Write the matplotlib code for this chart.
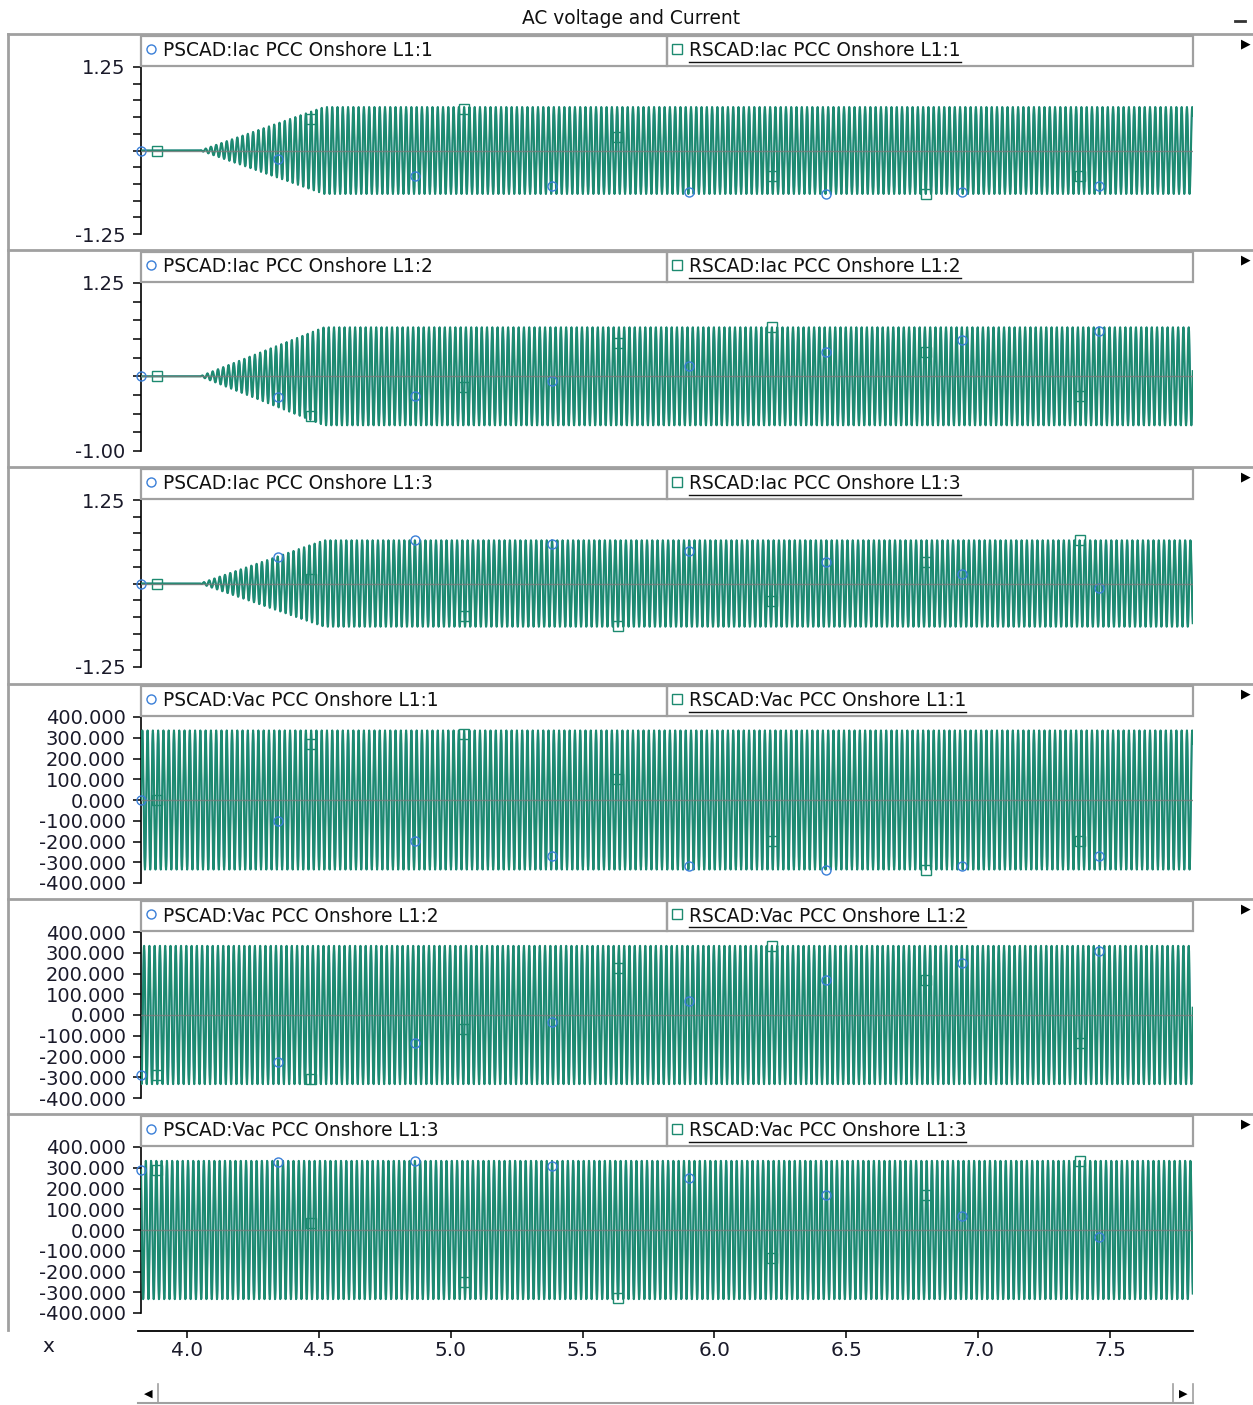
import matplotlib.pyplot as plt
import numpy as np

W, H = 1253, 1405
DPI = 100

# time axis (s) and sample step
t_start, t_end = 3.826, 7.814
dt = 0.001
freq = 50.0

# three-phase angles (deg) for L1:1, L1:2, L1:3
phase_deg = [0.0, -120.0, 120.0]

# current: peak (pu) per phase and the ramp-up window
iac_peak = [0.65, 0.66, 0.65]
ramp_start, ramp_end = 4.05, 4.52

# voltage: peak per phase
vac_peak = [335.0, 335.0, 335.0]

panel_names = ["Iac PCC Onshore L1:1", "Iac PCC Onshore L1:2", "Iac PCC Onshore L1:3",
               "Vac PCC Onshore L1:1", "Vac PCC Onshore L1:2", "Vac PCC Onshore L1:3"]
y_limits = [(-1.25, 1.25), (-1.00, 1.25), (-1.25, 1.25),
            (-400, 400), (-400, 400), (-400, 400)]
x_ticks = [4.0, 4.5, 5.0, 5.5, 6.0, 6.5, 7.0, 7.5]

GREEN = "#1d8a70"
BLUE = "#3a7fd8"
FRAME = "#a0a0a0"
TXT = "#1a1a2a"
FONT = "DejaVu Sans"
FS_TICK = 14.0
FS_LEG = 13.4


def box(x0, y0, x1, y1):
    """pixel box (top-left origin) -> figure fraction rect"""
    return [x0 / W, 1 - y1 / H, (x1 - x0) / W, (y1 - y0) / H]


def fx(x):
    return x / W


def fy(y):
    return 1 - y / H


fig = plt.figure(figsize=(W / DPI, H / DPI), dpi=DPI)
fig.patch.set_facecolor("white")

t = np.arange(t_start, t_end, dt)

panel_tops = [34, 250, 467, 684, 899, 1114]
axis_tops = [67, 283, 500, 717, 932, 1147]
axis_bots = [234, 451, 667, 883, 1098, 1313]
X0, X1 = 141, 1193

for i in range(6):
    ph = np.deg2rad(phase_deg[i % 3])
    wave = np.sin(2 * np.pi * freq * (t - t_start) + ph)
    if i < 3:
        env = np.clip((t - ramp_start) / (ramp_end - ramp_start), 0, 1)
        y = iac_peak[i] * env * wave
    else:
        y = vac_peak[i - 3] * wave

    ax = fig.add_axes(box(X0, axis_tops[i], X1, axis_bots[i]))
    ax.set_xlim(t_start, t_end)
    ax.set_ylim(*y_limits[i])
    ax.patch.set_alpha(0)
    ax.plot(t, y, color=BLUE, lw=1.0)
    ax.plot(t, y, color=GREEN, lw=1.5, zorder=3)
    ax.plot(t, y, color=GREEN, lw=0, marker="s", ms=7, mfc="none",
            mec=GREEN, mew=1.0, markevery=(60, 583), zorder=4, clip_on=False)
    ax.plot(t, y, color=BLUE, lw=0, marker="o", ms=6.5, mfc="none",
            mec=BLUE, mew=1.0, markevery=(0, 519), zorder=4, clip_on=False)
    ax.axhline(0, color="#7a7a7a", lw=1.0, alpha=0.8, zorder=5)

    for s in ["top", "right", "bottom"]:
        ax.spines[s].set_visible(False)
    ax.spines["left"].set_linewidth(1.2)
    ax.set_xticks([])
    lo, hi = y_limits[i]
    if i < 3:
        ax.yaxis.set_major_locator(plt.FixedLocator([lo, hi]))
        ax.yaxis.set_minor_locator(plt.MultipleLocator(0.25))
        ax.set_yticklabels([f"{lo:.2f}", f"{hi:.2f}"])
    else:
        ticks = np.arange(lo, hi + 1, 100)
        ax.set_yticks(ticks)
        ax.set_yticklabels([f"{v:.3f}" for v in ticks])
    ax.tick_params(axis="y", which="both", direction="out", length=6, width=1.1,
                   pad=5, labelsize=FS_TICK)
    for lab in ax.get_yticklabels():
        lab.set_family(FONT)
        lab.set_color(TXT)

    # legend strip above the plot
    ytop = panel_tops[i] + 2
    ybot = ytop + 30
    xm = 667
    for a, b in [(X0, xm), (xm, X1)]:
        fig.add_artist(plt.Rectangle((fx(a), fy(ybot)), (b - a) / W, 30 / H,
                                     fill=False, ec=FRAME, lw=1.6,
                                     transform=fig.transFigure))
    yc = (ytop + ybot) / 2
    fig.add_artist(plt.Line2D([fx(151)], [fy(yc - 2)], marker="o", ms=6.5, mfc="none",
                              mec=BLUE, mew=1.0, transform=fig.transFigure))
    fig.text(fx(163), fy(yc), "PSCAD:" + panel_names[i], fontsize=FS_LEG,
             family=FONT, va="center", ha="left", color="#111111")
    fig.add_artist(plt.Line2D([fx(677)], [fy(yc - 2)], marker="s", ms=6.5, mfc="none",
                              mec=GREEN, mew=1.0, transform=fig.transFigure))
    rt = fig.text(fx(689), fy(yc), "RSCAD:" + panel_names[i], fontsize=FS_LEG,
                  family=FONT, va="center", ha="left", color="#111111")
    fig.canvas.draw()
    bb = rt.get_window_extent()
    fig.add_artist(plt.Line2D([bb.x0 / W, bb.x1 / W], [fy(yc + 11)] * 2, color="#111111",
                              lw=1.0, transform=fig.transFigure))

    # panel separator and right-hand arrow
    fig.add_artist(plt.Line2D([fx(8), fx(1253)], [fy(panel_tops[i])] * 2,
                              color=FRAME, lw=2.0, transform=fig.transFigure))
    fig.text(fx(1246), fy(panel_tops[i] + 10), "\u25b6", fontsize=9, ha="center",
             va="center", color="black", family=FONT)

# left border of the panel stack
fig.add_artist(plt.Line2D([fx(8), fx(8)], [fy(34), fy(1330)], color=FRAME, lw=2.0,
                          transform=fig.transFigure))

# shared time axis
axx = fig.add_axes(box(X0 - 3, 1330, X1, 1331))
axx.set_xlim(t_start - 3 * (t_end - t_start) / (X1 - X0), t_end)
axx.set_yticks([])
axx.patch.set_alpha(0)
for s in ["top", "right", "left"]:
    axx.spines[s].set_visible(False)
axx.spines["bottom"].set_linewidth(1.3)
axx.set_xticks(x_ticks)
axx.set_xticklabels([f"{v:.1f}" for v in x_ticks])
axx.tick_params(axis="x", direction="out", length=5, width=1.1, pad=2,
                labelsize=FS_TICK + 0.5)
for lab in axx.get_xticklabels():
    lab.set_family(FONT)
    lab.set_color(TXT)
fig.text(fx(48), fy(1347), "x", fontsize=FS_TICK + 0.5, family=FONT, ha="center",
         va="center", color=TXT)

# title and window dash
fig.text(fx(631), fy(18), "AC voltage and Current", fontsize=FS_LEG, family=FONT,
         ha="center", va="center", color="#111111")
fig.add_artist(plt.Line2D([fx(1235), fx(1245)], [fy(21)] * 2, color="#333333", lw=2.0,
                          transform=fig.transFigure))

# scrollbar
fig.add_artist(plt.Line2D([fx(138), fx(1193)], [fy(1403)] * 2, color=FRAME, lw=1.5,
                          transform=fig.transFigure))
for xs in [158, 1173, 1193]:
    fig.add_artist(plt.Line2D([fx(xs), fx(xs)], [fy(1384), fy(1403)], color=FRAME, lw=1.2,
                              transform=fig.transFigure))
fig.text(fx(148), fy(1394), "\u25c0", fontsize=8, ha="center", va="center", family=FONT)
fig.text(fx(1183), fy(1394), "\u25b6", fontsize=8, ha="center", va="center", family=FONT)

fig.savefig("out.png", dpi=DPI, facecolor="white")
